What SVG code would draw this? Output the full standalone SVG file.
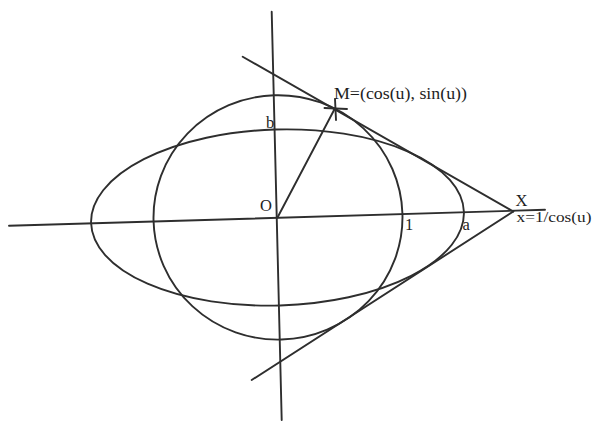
<svg xmlns="http://www.w3.org/2000/svg" width="594" height="421" viewBox="0 0 594 421">
<style>
.ln{fill:none;stroke:#2e2e2e;stroke-width:1.9;stroke-linecap:round}
.t{font-family:"Liberation Serif","Times New Roman",serif;font-size:16.5px;fill:#1e1e1e}
</style>
<rect width="594" height="421" fill="#ffffff"/>
<g id="axes">
<line class="ln" x1="9" y1="225.8" x2="545" y2="209.8"/>
<line class="ln" x1="271.7" y1="11.7" x2="281.7" y2="420"/>
</g>
<g id="curves">
<ellipse id="ellipse" class="ln" cx="277.5" cy="217.5" rx="186.5" ry="88" transform="rotate(-1.7 277.5 217.5)"/>
<ellipse id="circle" class="ln" cx="278" cy="217.4" rx="124.5" ry="122.2" transform="rotate(-1.7 278 217.4)"/>
</g>
<g id="connectors">
<line class="ln" x1="242.7" y1="56.7" x2="513.3" y2="211.5"/>
<line class="ln" x1="513.3" y1="211.5" x2="251.7" y2="380"/>
<line class="ln" x1="277.5" y1="217.5" x2="335" y2="108.3"/>
<line class="ln" x1="324.5" y1="108" x2="347" y2="109"/>
<line class="ln" x1="335" y1="99" x2="336" y2="120"/>
</g>
<g id="labels">
<text class="t" x="334" y="98.5" textLength="133" lengthAdjust="spacingAndGlyphs">M=(cos(u), sin(u))</text>
<text class="t" x="266" y="127.5">b</text>
<text class="t" x="260" y="210.5">O</text>
<text class="t" x="405" y="230">1</text>
<text class="t" x="462.5" y="230">a</text>
<text class="t" x="515.5" y="206">X</text>
<text class="t" x="516.5" y="222" style="font-size:15.5px" textLength="75" lengthAdjust="spacingAndGlyphs">x=1/cos(u)</text>
</g>
</svg>
